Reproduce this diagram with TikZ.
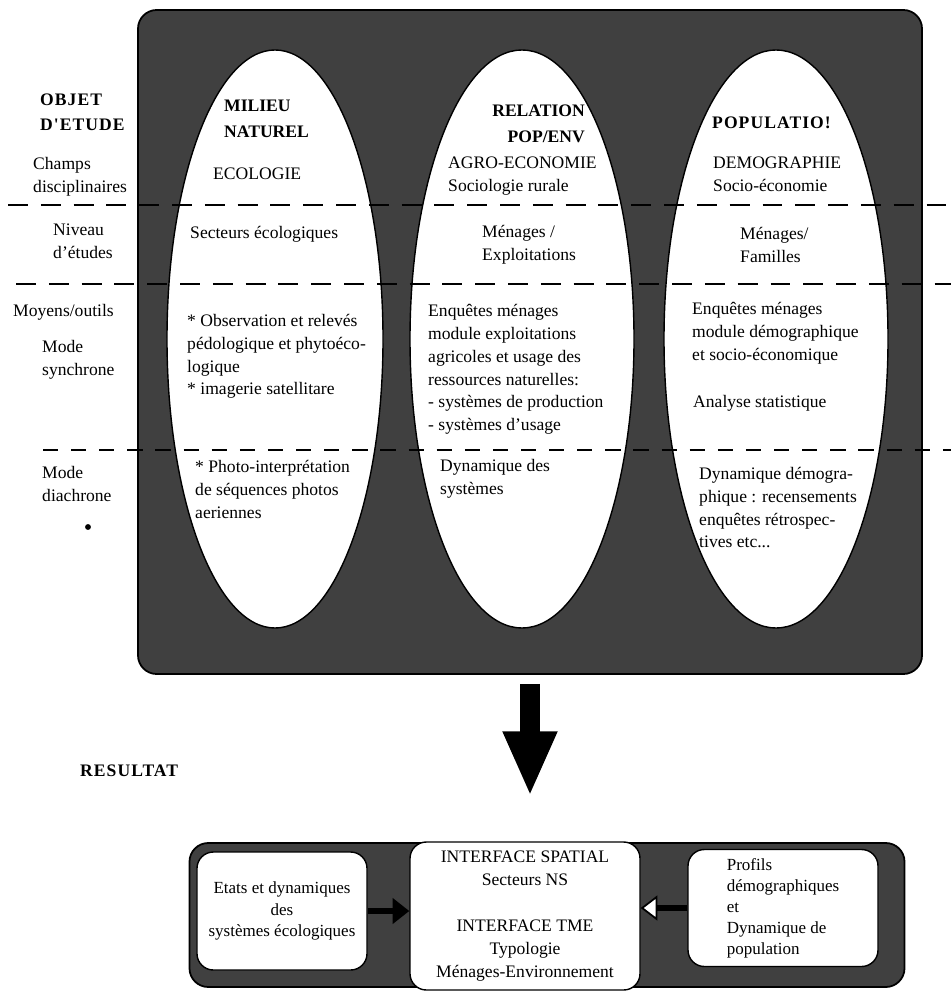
\documentclass[tikz,border=0pt]{standalone}
\usepackage{fontspec}
\setmainfont{Liberation Serif}
\newfontfamily\spacedfont[LetterSpace=6]{Liberation Serif}
\usetikzlibrary{arrows.meta,positioning,calc,shapes.geometric}

\begin{document}
\begin{tikzpicture}[x=0.03cm,y=-0.03cm,
  txt/.style={anchor=north west, inner sep=0pt, align=left, font=\fontsize{15}{19.5}\selectfont},
  titre/.style={txt, font=\fontsize{15}{22}\selectfont\bfseries},
  espace/.style={txt, font=\fontsize{15}{21}\selectfont\spacedfont\bfseries},
  oval/.style={ellipse, draw, line width=1.2pt, fill=white, inner sep=0pt, minimum height=17.34cm},
  panel/.style={draw, line width=1.5pt, rounded corners=16pt, fill=black!75, inner sep=0pt},
  boite/.style={draw, line width=1.2pt, rounded corners=14pt, fill=white, inner sep=2pt, align=center, font=\fontsize{14.5}{18}\selectfont},
  cutline/.style={line width=2.4pt, dash pattern=on 17pt off 11pt},
  bigarrow/.style={line width=0.6cm, -{Triangle[length=1.95cm,width=1.5cm]}},
  smallarrow/.style={line width=0.18cm, -{Triangle[length=0.5cm,width=0.75cm]}}]
  \fill[white] (0,0) rectangle (951,992);
  \useasboundingbox (0,0) rectangle (951,992);

  \node[panel, minimum width=23.52cm, minimum height=19.92cm] (panel) at (530,342) {}; % cadre du haut
  \node[oval, minimum width=6.48cm] (milieu) at (275,339) {};     % milieu naturel
  \node[oval, minimum width=6.72cm] (relation) at (522,339) {};   % relation pop/env
  \node[oval, minimum width=6.72cm] (population) at (776,339) {}; % population

  \draw[cutline] (8,205) -- (951,205);   % champs / niveau
  \draw[cutline] (16,284) -- (951,284);  % niveau / moyens
  \draw[cutline, line width=1.6pt, dash pattern=on 13pt off 11pt] (43,450) -- (951,450); % synchrone / diachrone

  % colonne de gauche
  \node[espace] (objet) at (40,94) {OBJET\\D'ETUDE};
  \node[txt] (champs) at (33,157) {Champs\\disciplinaires};
  \node[txt] (niveau) at (53,224) {Niveau\\d'études};
  \node[txt] (moyens) at (13,304) {Moyens/outils};
  \node[txt] (synchro) at (42,340) {Mode\\synchrone};
  \node[txt] (diachro) at (42,466) {Mode\\diachrone};
  \fill (88,527) circle (2.5pt);

  % milieu naturel
  \node[titre] (milieutxt) at (224,100) {MILIEU\\NATUREL};
  \node[txt] (ecologie) at (213,168) {ECOLOGIE};
  \node[txt] (secteurs) at (190,226) {Secteurs écologiques};
  \node[txt] (observ) at (187,314) {* Observation et relevés\\pédologique et phytoéco-\\logique\\* imagerie satellitare};
  \node[txt] (photo) at (195,460) {* Photo-interprétation\\de séquences photos\\aeriennes};

  % relation pop/env
  \node[titre, anchor=north east, align=right] (relationtxt) at (585,105) {RELATION\\POP/ENV};
  \node[txt] (agro) at (448,157) {AGRO-ECONOMIE\\Sociologie rurale};
  \node[txt] (exploit) at (482,225) {Ménages /\\Exploitations};
  \node[txt] (enquetes) at (428,304) {Enquêtes ménages\\module exploitations\\agricoles et usage des\\ressources naturelles:\\- systèmes de production\\- systèmes d'usage};
  \node[txt] (dynsys) at (440,459) {Dynamique des\\systèmes};

  % population
  \node[espace] (poptxt) at (712,117) {POPULATIO!};
  \node[txt] (demog) at (713,157) {DEMOGRAPHIE\\Socio-économie};
  \node[txt] (familles) at (740,227) {Ménages/\\Familles};
  \node[txt] (enqdem) at (692,302) {Enquêtes ménages\\module démographique\\et socio-économique};
  \node[txt] (stat) at (693,395) {Analyse statistique};
  \node[txt] (dyndem) at (699,467) {Dynamique démogra-\\phique : recensements\\enquêtes rétrospec-\\tives etc...};

  % resultat
  \node[espace] (resultat) at (80,765) {RESULTAT};
  \node[panel, minimum width=21.45cm, minimum height=4.32cm] (resbox) at (547,915) {};
  \node[boite, minimum width=6.9cm, minimum height=4.44cm, font=\fontsize{15}{19.5}\selectfont] (interface) at (525,916) {INTERFACE SPATIAL\\Secteurs NS\\[20pt]INTERFACE TME\\Typologie\\Ménages-Environnement};
  \node[boite, minimum width=5.1cm, minimum height=3.54cm] (etats) at (282,911) {Etats et dynamiques\\des\\systèmes écologiques};
  \node[boite, minimum width=5.7cm, minimum height=3.51cm, align=left] (profils) at (783,908) {Profils\\démographiques\\et\\Dynamique de\\population};

  \draw[bigarrow, shorten <=0.27cm, shorten >=1.35cm] (panel.south) -- (panel.south |- interface.north); % vers le resultat
  \draw[smallarrow] (etats.east) -- (etats.east -| interface.west);
  \draw[smallarrow, -{Triangle[length=0.5cm,width=0.75cm,fill=white,line width=1.5pt]}] (profils.west) -- (profils.west -| interface.east);
\end{tikzpicture}
\end{document}
